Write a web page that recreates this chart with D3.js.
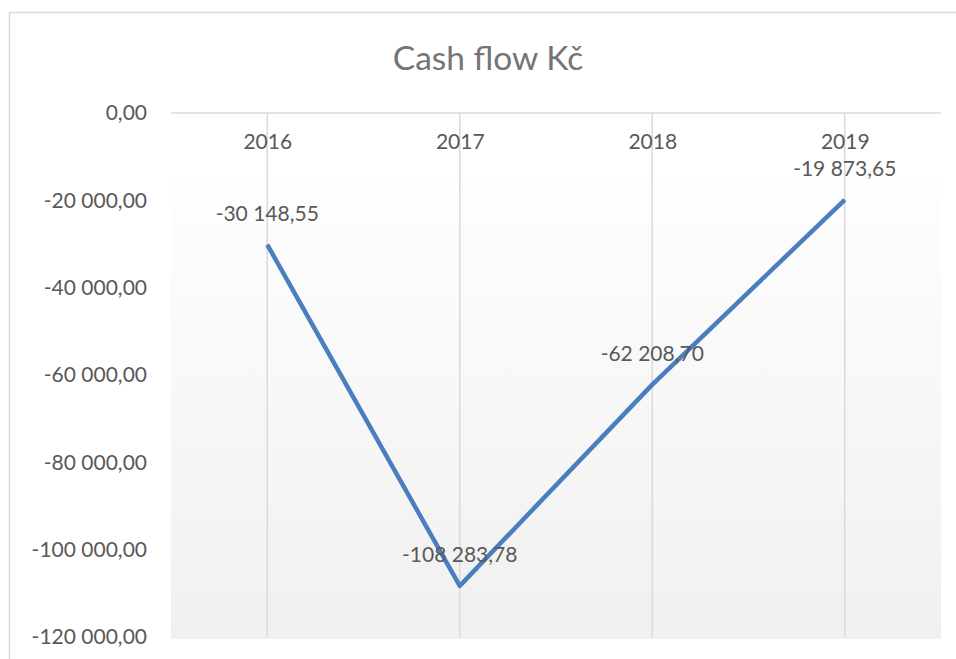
<!DOCTYPE html>
<meta charset="utf-8">
<head>
    <title>Cash flow</title>
    <script src="https://cdn.jsdelivr.net/npm/d3@7"></script>
</head>

<style>
    body { margin: 0; background: #fff; }
    text { font-family: Lato, "Open Sans", sans-serif; fill: #595959; }
</style>

<svg></svg>

<script>
    // data
    var years = ["2016", "2017", "2018", "2019"];
    var cashFlow = [-30148.55, -108283.78, -62208.70, -19873.65];
    var yTicks = [0, -20000, -40000, -60000, -80000, -100000, -120000];

    var vWidth = 956;
    var vHeight = 659;

    var svg = d3.select('svg')
        .attr('width', vWidth)
        .attr('height', vHeight);

    // czech style number: space for thousands, comma for decimals
    var cz = d3.formatLocale({decimal: ",", thousands: "\u00a0", grouping: [3], currency: ["", " Kč"], minus: "-"});
    var fmt = cz.format(",.2f");

    // chart border
    svg.append('rect')
        .attr('x', 9.5).attr('y', 12.5)
        .attr('width', 960).attr('height', 660)
        .attr('fill', 'none')
        .attr('stroke', '#d9d9d9')
        .attr('stroke-width', 1.5);

    var x = d3.scalePoint().domain(years).range([171, 941]).padding(0.5);
    var y = d3.scaleLinear().domain([-120000, 0]).range([637, 113]);

    // plot background gradient
    var grad = svg.append('defs').append('linearGradient')
        .attr('id', 'bg').attr('x1', 0).attr('y1', 0).attr('x2', 0).attr('y2', 1);
    grad.append('stop').attr('offset', '0%').attr('stop-color', '#fefefe');
    grad.append('stop').attr('offset', '100%').attr('stop-color', '#f0f0f0');

    svg.append('rect')
        .attr('x', 171).attr('y', 179)
        .attr('width', 770).attr('height', 460)
        .attr('fill', 'url(#bg)');

    // title
    svg.append('text')
        .attr('x', 488).attr('y', 70)
        .attr('text-anchor', 'middle')
        .style('font-size', '33.5px')
        .style('fill', '#757575')
        .text('Cash flow Kč');

    // vertical gridlines
    svg.append('g').selectAll('line').data(years).enter()
        .append('line')
        .attr('x1', function (d) { return x(d); })
        .attr('x2', function (d) { return x(d); })
        .attr('y1', y(0)).attr('y2', y(-120000))
        .attr('stroke', '#d9d9d9')
        .attr('stroke-width', 1.5);

    // zero line
    svg.append('line')
        .attr('x1', 171).attr('x2', 941)
        .attr('y1', y(0)).attr('y2', y(0))
        .attr('stroke', '#d9d9d9')
        .attr('stroke-width', 1.5);

    // y axis
    var yAxis = d3.axisLeft(y).tickValues(yTicks).tickSize(0).tickPadding(0)
        .tickFormat(function (d) { return fmt(d); });
    var gy = svg.append('g').attr('transform', 'translate(147,0)').call(yAxis);
    gy.select('.domain').remove();
    gy.selectAll('text')
        .style('font-size', '21px')
        .style('font-family', 'Lato, sans-serif')
        .attr('fill', '#595959');

    // x axis labels under the zero line
    var xAxis = d3.axisBottom(x).tickSize(0).tickPadding(0);
    var gx = svg.append('g').attr('transform', 'translate(0,' + (y(0) + 21) + ')').call(xAxis);
    gx.select('.domain').remove();
    gx.selectAll('text')
        .style('font-size', '21px')
        .style('font-family', 'Lato, sans-serif')
        .attr('fill', '#595959');

    // line
    var line = d3.line()
        .x(function (d, i) { return x(years[i]); })
        .y(function (d) { return y(d); });

    svg.append('path')
        .datum(cashFlow)
        .attr('d', line)
        .attr('fill', 'none')
        .attr('stroke', '#4a7ebf')
        .attr('stroke-width', 4.5)
        .attr('stroke-linejoin', 'round');

    // data labels
    svg.append('g').selectAll('text').data(cashFlow).enter()
        .append('text')
        .attr('x', function (d, i) { return x(years[i]); })
        .attr('y', function (d) { return y(d) - 24; })
        .attr('text-anchor', 'middle')
        .style('font-size', '21px')
        .text(function (d) { return fmt(d); });
</script>
